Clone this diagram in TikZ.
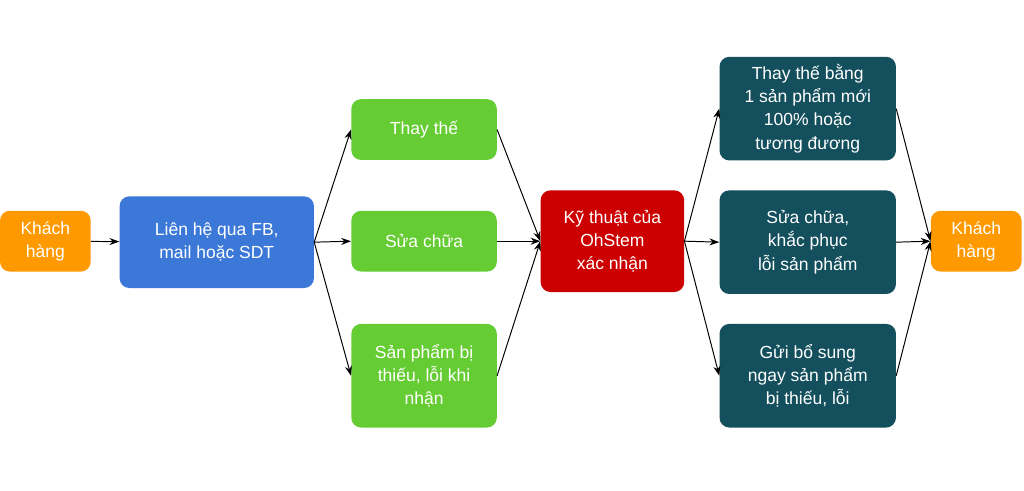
\documentclass[tikz,border=0pt]{standalone}
\usepackage{fontspec}
\setmainfont{Liberation Sans}
\usetikzlibrary{arrows.meta}
\definecolor{khachcolor}{HTML}{FF9900}
\definecolor{lienhecolor}{HTML}{3C78D8}
\definecolor{loaicolor}{HTML}{66CC33}
\definecolor{kythuatcolor}{HTML}{CC0000}
\definecolor{xulycolor}{HTML}{134F5C}

\begin{document}
\begin{tikzpicture}[x=0.025cm,y=-0.025cm,
  box/.style={rounded corners=7pt,text=white,align=center,inner sep=0pt,
    font=\fontsize{12.5}{16.5}\selectfont},
  khach/.style={box,fill=khachcolor,minimum width=91*0.025cm,minimum height=61*0.025cm},
  loai/.style={box,fill=loaicolor,minimum width=146*0.025cm},
  xuly/.style={box,fill=xulycolor,minimum width=177*0.025cm,minimum height=104*0.025cm},
  arr/.style={black,line width=0.7pt,-{Stealth[length=7pt,width=5pt]}}]
  \fill[white] (0,0) rectangle (1024,492);
% khach hang va lien he
  \node[khach] (khach1) at (42,242) {Khách\\hàng};
  \node[box,fill=lienhecolor,minimum width=195*0.025cm,minimum height=92*0.025cm] (lienhe) at (214,243) {Liên hệ qua FB,\\mail hoặc SDT};
% cac loai yeu cau
  \node[loai,minimum height=61*0.025cm] (thaythe) at (422,130) {Thay thế};
  \node[loai,minimum height=61*0.025cm] (suachua) at (422,242) {Sửa chữa};
  \node[loai,minimum height=104*0.025cm] (thieu) at (422,377) {Sản phẩm bị\\thiếu, lỗi khi\\nhận};
% ky thuat
  \node[box,fill=kythuatcolor,minimum width=144*0.025cm,minimum height=102*0.025cm] (kythuat) at (611,242) {Kỹ thuật của\\OhStem\\xác nhận};
% xu ly
  \node[xuly] (thaymoi) at (807,109) {Thay thế bằng\\1 sản phẩm mới\\100\% hoặc\\tương đương};
  \node[xuly] (khacphuc) at (807,243) {Sửa chữa,\\khắc phục\\lỗi sản phẩm};
  \node[xuly] (guibosung) at (807,377) {Gửi bổ sung\\ngay sản phẩm\\bị thiếu, lỗi};
  \node[khach] (khach2) at (976,242) {Khách\\hàng};
% connectors
  \draw[arr] (khach1) -- (lienhe);
  \foreach \n in {thaythe,suachua,thieu}{
    \draw[arr] (lienhe.east) -- (\n.west);
    \draw[arr] (\n.east) -- (kythuat.west);
  }
  \foreach \n in {thaymoi,khacphuc,guibosung}{
    \draw[arr] (kythuat.east) -- (\n.west);
    \draw[arr] (\n.east) -- (khach2.west);
  }
  \useasboundingbox (0,0) rectangle (1024,492);
\end{tikzpicture}
\end{document}
